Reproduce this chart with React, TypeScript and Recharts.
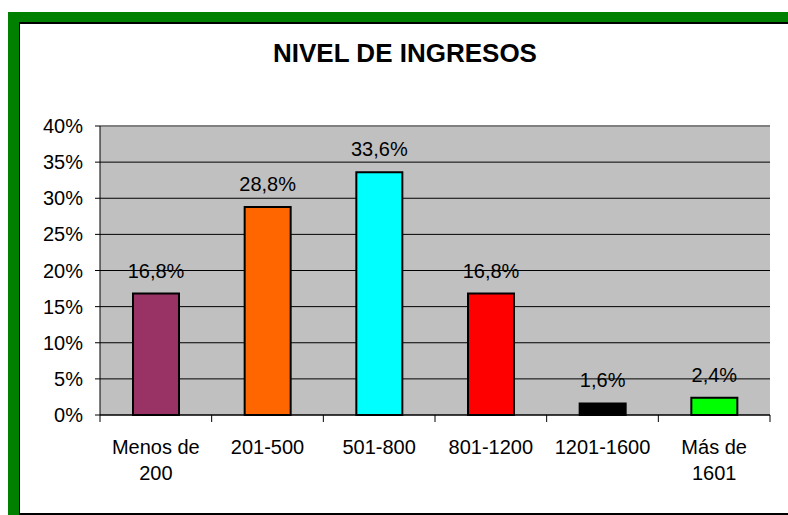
import { BarChart, Bar, XAxis, YAxis, CartesianGrid, Cell, LabelList, ReferenceLine } from "recharts";

const categories = ["Menos de\n200", "201-500", "501-800", "801-1200", "1201-1600", "Más de\n1601"];
const shares = [0.168, 0.288, 0.336, 0.168, 0.016, 0.024];
const colors = ["#993366", "#FF6600", "#00FFFF", "#FF0000", "#000000", "#00FF00"];
const yTicks = [0, 0.05, 0.1, 0.15, 0.2, 0.25, 0.3, 0.35, 0.4];

const data = categories.map((name, i) => ({ name, value: shares[i] }));

const W = 788;
const H = 515;
const FONT = "'Liberation Sans', Arial, sans-serif";
const PLOT_LEFT = 100;
const PLOT_RIGHT = 770;
const BAND = (PLOT_RIGHT - PLOT_LEFT) / categories.length;

const pct = (v: number) => `${Math.round(v * 100)}%`;
const pctLabel = (v: any) => `${(Number(v) * 100).toFixed(1).replace(".", ",")}%`;

function XTick(props: any) {
  const { x, y, payload, index } = props;
  const lines = String(payload.value).split("\n");
  const last = index === categories.length - 1;
  return (
    <g>
      <line x1={x - BAND / 2} x2={x - BAND / 2} y1={y - 7} y2={y} stroke="#000" />
      {last && <line x1={x + BAND / 2} x2={x + BAND / 2} y1={y - 7} y2={y} stroke="#000" />}
      <text x={x} y={y + 32} textAnchor="middle" fontSize={20} fontFamily={FONT} fill="#000">
        {lines.map((l, i) => (
          <tspan key={i} x={x} dy={i === 0 ? 0 : 26}>
            {l}
          </tspan>
        ))}
      </text>
    </g>
  );
}

export default function App() {
  return (
    <div style={{ position: "absolute", left: 0, top: 0, width: W, height: H, background: "#fff", overflow: "hidden" }}>
      <div style={{ position: "absolute", left: 8, top: 12, right: 0, bottom: 0, background: "#008000" }} />
      <div
        style={{
          position: "absolute",
          left: 19,
          top: 22,
          right: 0,
          bottom: 0,
          background: "#fff",
          borderLeft: "1px solid #000",
          borderTop: "2px solid #000",
          borderBottom: "2px solid #000",
          boxSizing: "border-box",
        }}
      />
      <div
        style={{
          position: "absolute",
          left: 20,
          width: 770,
          top: 38,
          textAlign: "center",
          fontFamily: FONT,
          fontWeight: "bold",
          fontSize: 26,
          lineHeight: "30px",
          color: "#000",
        }}
      >
        NIVEL DE INGRESOS
      </div>
      <div style={{ position: "absolute", left: 0, top: 0 }}>
        <BarChart width={W} height={H} data={data} margin={{ top: 126, right: 18, left: 20, bottom: 20 }}>
          <CartesianGrid vertical={false} stroke="#000" fill="#c0c0c0" fillOpacity={1} />
          <ReferenceLine y={0.4} stroke="#808080" strokeWidth={2} />
          <XAxis
            dataKey="name"
            interval={0}
            height={80}
            tickSize={7}
            tickMargin={0}
            tickLine={false}
            axisLine={{ stroke: "#000" }}
            tick={<XTick />}
          />
          <YAxis
            width={80}
            domain={[0, 0.4]}
            ticks={yTicks}
            tickFormatter={pct}
            tickSize={5}
            tickMargin={12}
            axisLine={{ stroke: "#000" }}
            tickLine={{ stroke: "#000" }}
            tick={{ fill: "#000", fontSize: 20, fontFamily: FONT }}
          />
          <YAxis
            yAxisId="r"
            orientation="right"
            width={0}
            domain={[0, 0.4]}
            tick={false}
            tickLine={false}
            axisLine={{ stroke: "#808080", strokeWidth: 2 }}
          />
          <Bar dataKey="value" barSize={46} stroke="#000" strokeWidth={2} isAnimationActive={false}>
            {data.map((_, i) => (
              <Cell key={`c-${i}`} fill={colors[i]} />
            ))}
            <LabelList
              dataKey="value"
              position="top"
              offset={16}
              formatter={pctLabel}
              style={{ fill: "#000", fontSize: 20, fontFamily: FONT }}
            />
          </Bar>
        </BarChart>
      </div>
    </div>
  );
}
